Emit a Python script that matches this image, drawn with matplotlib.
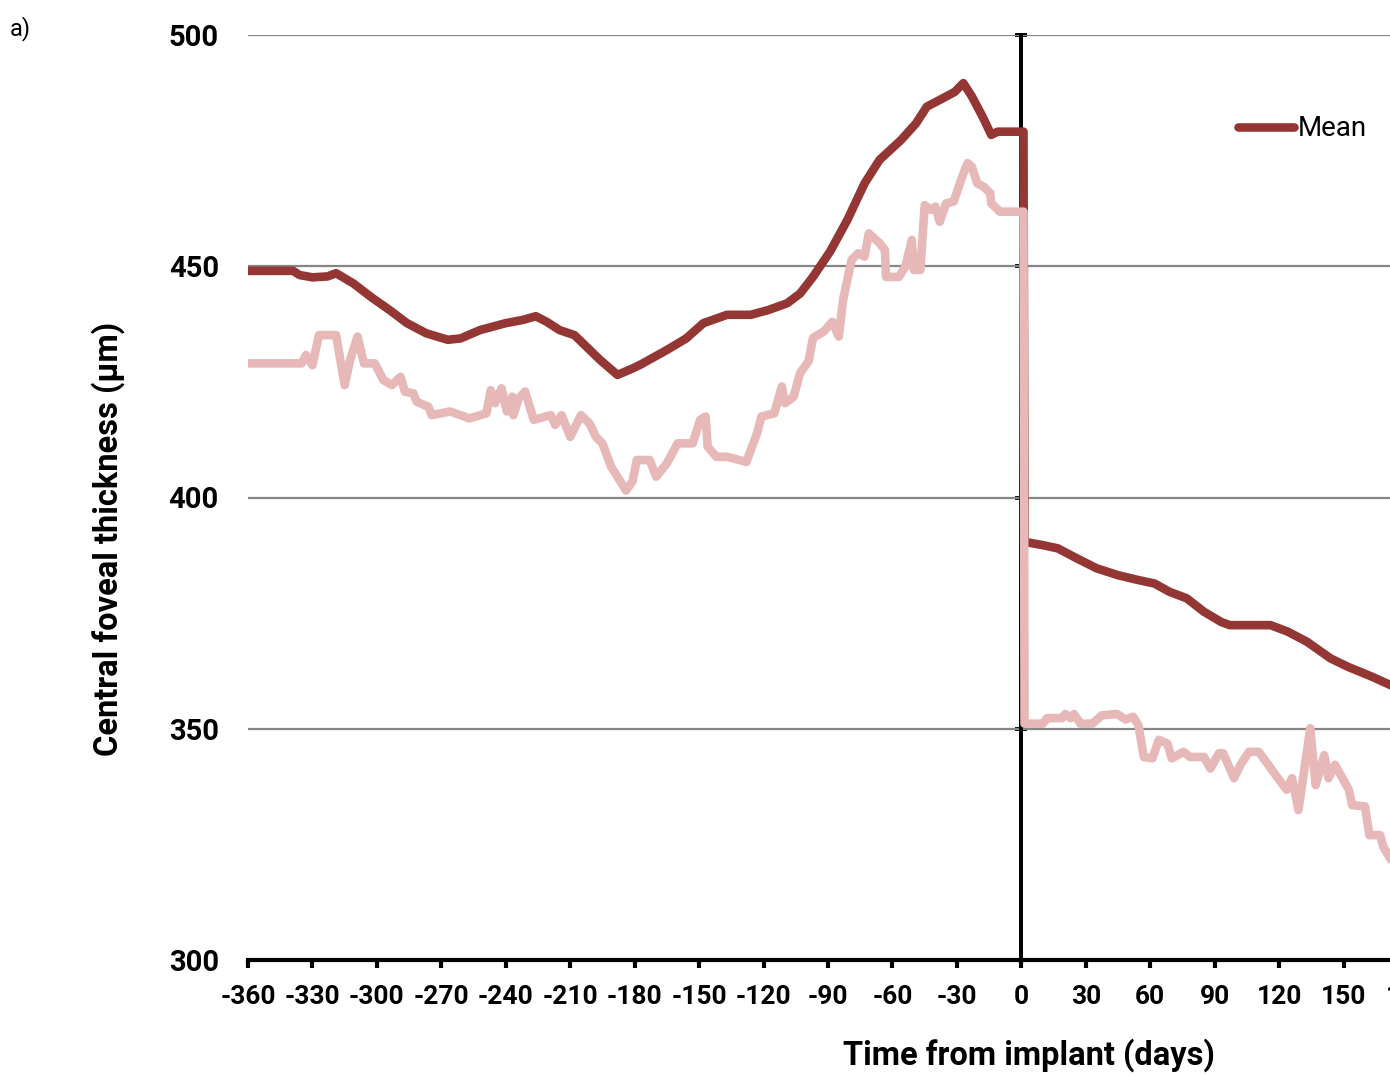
import numpy as np
import matplotlib
matplotlib.use('Agg')
import matplotlib.pyplot as plt

# ---- data ----
mean_days = [-360, -339, -336, -330, -323, -319, -311, -302, -294, -286, -277, -267,
             -261, -252, -240, -232, -226, -221, -215, -208, -196, -188, -181, -177,
             -165, -156, -148, -137, -126, -118, -109, -103, -97, -89, -81, -73, -66,
             -56, -49, -44, -35, -31, -27, -23, -18, -14, -11, 1,
             1.5, 4, 10, 17, 26, 35, 45, 54, 62, 69, 77, 85, 93, 97, 116, 124, 133,
             144, 152, 163, 173]
mean_vals = [449, 449, 448.1, 447.6, 447.8, 448.5, 446.3, 443.1, 440.5, 437.7, 435.5, 434.1,
             434.4, 436.2, 437.7, 438.4, 439.2, 438, 436.2, 435.1, 429.7, 426.5, 427.9, 428.8,
             431.9, 434.4, 437.7, 439.5, 439.5, 440.5, 442, 444.1, 447.7, 453.2, 460, 467.9, 473,
             477.3, 480.9, 484.5, 486.7, 487.7, 489.6, 486.7, 482.3, 478.4, 479.1, 479.1,
             390.5, 390.2, 389.7, 389, 386.8, 384.7, 383.2, 382.2, 381.4, 379.6, 378.2, 375.3, 373.1,
             372.4, 372.4, 371, 368.8, 365.2, 363.4, 361.3, 359.2]

other_days = [-360, -335, -333, -330, -327, -319, -315, -312.5, -309, -306, -301, -297,
              -293, -289, -287, -283, -281.5, -276, -274.5, -266, -261, -257, -249, -247,
              -245, -242, -239.5, -237, -236.5, -234, -231, -227, -219, -217, -214, -210,
              -205, -201, -198, -195, -191, -184, -181, -179, -173, -170, -165, -160,
              -153, -149.5, -147, -146, -142, -137, -128, -123, -121, -115, -111.5, -110,
              -106, -103, -99, -97, -92, -88, -85, -83, -79, -76, -73, -71, -66, -63.5,
              -63, -57, -54, -51, -50, -47, -45, -42, -40, -38, -35, -31.5, -27.5, -25,
              -23, -20.5, -17.5, -14.5, -14, -10, 1,
              1.5, 10, 12, 19, 20.5, 23, 24.5, 27.5, 33, 37.5, 44.5, 48.5, 52, 54.5, 57,
              61, 64, 68, 70, 75.5, 78.5, 85, 88, 92, 94, 99, 102, 106, 110.5, 114.5,
              119, 123.5, 126, 129, 134.5, 137, 141, 143, 146, 152.5, 154, 160, 162,
              167, 168.5, 173]
other_vals = [429, 429, 430.8, 428.6, 435.1, 435.1, 424.3, 429.7, 434.8, 429, 429, 425.4,
              424.3, 426.1, 422.9, 422.5, 420.7, 419.6, 417.8, 418.6, 417.8, 417.1, 418.2, 423.2,
              420.4, 423.6, 418.6, 421.8, 417.8, 421.4, 422.9, 416.8, 417.8, 415.7, 417.8, 413.1,
              417.8, 416, 413.1, 411.7, 406.7, 401.5, 403.5, 408.1, 408.1, 404.5, 407.4, 411.7,
              411.7, 416.8, 417.5, 411, 408.8, 408.8, 407.7, 413.9, 417.5, 418.2, 424, 420.4,
              421.8, 426.9, 429.5, 434.5, 435.9, 438, 434.8, 442.7, 451.4, 452.8, 452.1, 457.1, 455, 453.5,
              447.7, 447.7, 449.9, 455.7, 449.2, 449.2, 463.2, 462.2, 462.9, 459.6, 463.6, 464, 469.4, 472.3,
              471.5, 467.9, 467.2, 465.8, 463.6, 461.8, 461.8,
              351.1, 351.1, 352.3, 352.3, 353.2, 352.3, 353.2, 351.1, 351.1, 352.9, 353.2, 352, 352.6, 350.8, 343.9,
              343.6, 347.6, 346.8, 343.6, 345, 343.9, 343.9, 341.4, 344.7, 344.7, 339.3, 342.2, 345, 345, 342.5,
              339.6, 336.8, 339.3, 332.4, 350.1, 337.8, 344.3, 339.3, 342.2, 336.8, 333.5, 333.2, 327,
              327, 324.5, 321]

x_ticks = list(range(-360, 181, 30))
y_ticks = [300, 350, 400, 450, 500]

dark = '#943634'
pink = '#E6B9B8'

plt.rcParams['font.family'] = ['Roboto', 'DejaVu Sans']

fig = plt.figure(figsize=(13.9, 10.77), dpi=100)
# plot area runs a little past the right edge of the picture, like the original crop
ax = fig.add_axes([248/1390, 117/1077, 1160/1390, 925/1077])

ax.axvline(0, color='black', lw=2.8, zorder=2)
ax.plot(mean_days, mean_vals, color=dark, lw=6.2, solid_capstyle='round',
        solid_joinstyle='round', label='Mean', zorder=3)
ax.plot(other_days, other_vals, color=pink, lw=6.2, solid_capstyle='round',
        solid_joinstyle='round', label='_nolegend_', zorder=4)

ax.set_xlim(-360, 180)
ax.set_ylim(300, 500)

ax.set_yticks(y_ticks)
ax.set_yticklabels([str(v) for v in y_ticks], fontsize=21, fontweight='bold')
ax.set_xticks(x_ticks)
ax.set_xticklabels([str(v) for v in x_ticks], fontsize=19, fontweight='bold')

ax.yaxis.grid(True, color='#868686', lw=1.6)
ax.set_axisbelow(True)

for s in ['left', 'right', 'top']:
    ax.spines[s].set_visible(False)
ax.spines['bottom'].set_linewidth(3)
ax.spines['bottom'].set_zorder(5)
ax.tick_params(axis='y', length=0, pad=21)
ax.tick_params(axis='x', direction='out', length=6, width=3, pad=12)

# tick marks on the vertical axis crossing at day 0
vax = ax.secondary_yaxis(360/540)
vax.set_yticks(y_ticks[1:])
vax.set_yticklabels([])
for sp in vax.spines.values():
    sp.set_linewidth(2.8)
vax.tick_params(axis='y', which='both', direction='inout', length=9, width=2.8)

ax.set_xlabel('Time from implant (days)', fontsize=23.5, fontweight='bold')
ax.xaxis.set_label_coords(0.673, -0.084)
ax.set_ylabel('Central foveal thickness (µm)', fontsize=23.5, fontweight='bold')
ax.yaxis.set_label_coords(-0.106, 0.455)

fig.legend(loc='center left', bbox_to_anchor=(1238/1390, 1 - 129/1077), frameon=False,
           fontsize=20, handlelength=2.0, handletextpad=0.15, borderpad=0, borderaxespad=0)

fig.text(0.007, 0.985, 'a)', fontsize=17, va='top', ha='left')

fig.savefig('out.png', dpi=100)
